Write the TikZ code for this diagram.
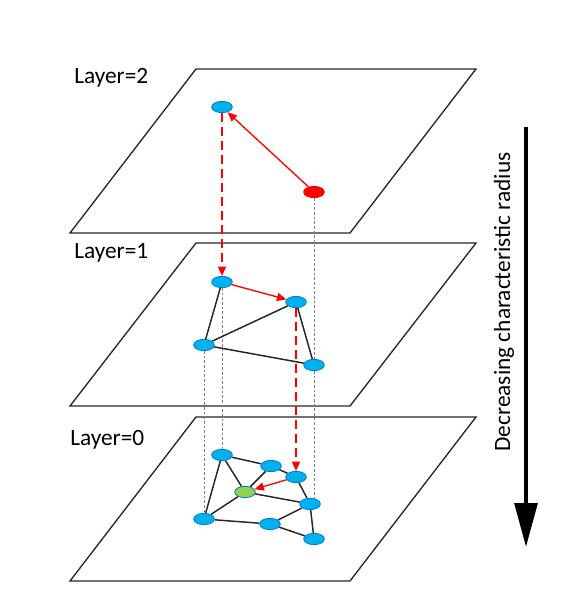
\documentclass[tikz,border=0pt]{standalone}
\usepackage{fontspec}
\setmainfont{Carlito}
\usetikzlibrary{arrows.meta,shapes.geometric,backgrounds}
\definecolor{nodeblue}{RGB}{0,176,240}
\definecolor{nodeedge}{RGB}{0,125,200}
\definecolor{nodegreen}{RGB}{146,208,80}
\definecolor{redc}{RGB}{255,0,0}
\begin{document}
\begin{tikzpicture}[x=0.75pt,y=-0.75pt,
  plane/.style={draw=black!85,line width=1pt,line join=miter},
  vtx/.style={ellipse,draw=nodeedge,fill=nodeblue,line width=0.6pt,minimum width=15.5pt,minimum height=8.5pt,inner sep=0pt},
  gvtx/.style={vtx,fill=nodegreen},
  rvtx/.style={vtx,fill=redc,draw=redc},
  edge/.style={draw=black!85,line width=1.1pt},
  redarrow/.style={draw=redc,line width=1pt,-{Triangle[length=7pt,width=6pt]}},
  reddash/.style={redarrow,line width=1.2pt,dash pattern=on 7pt off 3.5pt},
  vdot/.style={draw=gray,line width=0.6pt,dash pattern=on 2pt off 1.5pt},
  lbl/.style={font=\fontsize{17.5}{21}\selectfont,inner sep=0pt,anchor=base west}]
\useasboundingbox (0,0) rectangle (568,608);
% layer 2 nodes
\node[vtx] (t1) at (222,107) {};
\node[rvtx] (t2) at (314,192) {};
% layer 1 nodes
\node[vtx] (m1) at (222,282) {};
\node[vtx] (m2) at (296,302) {};
\node[vtx] (m3) at (204,345) {};
\node[vtx] (m4) at (314,365) {};
% layer 0 nodes
\node[vtx] (a) at (222,455) {};
\node[vtx] (b) at (271,466) {};
\node[vtx] (c) at (296,477) {};
\node[vtx] (d) at (310,504) {};
\node[vtx] (e) at (204,519) {};
\node[vtx] (f) at (270,524) {};
\node[vtx] (h) at (314,539) {};
\node[gvtx] (g) at (245,492) {};
\coordinate (dend) at (314,504);
\begin{scope}[on background layer]
% planes
\draw[plane] (196,69) -- (476,69) -- (350,233) -- (70,233) -- cycle;
\draw[plane] (196,243) -- (476,243) -- (350,406) -- (70,406) -- cycle;
\draw[plane] (196,417) -- (476,417) -- (350,581) -- (70,581) -- cycle;
% vertical dotted links
\draw[vdot] (t2) -- (m4);
\draw[vdot] (m1) -- (a);
\draw[vdot] (m3) -- (e);
\draw[vdot] (m4) -- (dend);
% layer 1 edges
\draw[edge] (m1) -- (m3);
\draw[edge] (m3) -- (m2);
\draw[edge] (m3) -- (m4);
\draw[edge] (m2) -- (m4);
% layer 0 edges
\draw[edge] (a) -- (b);
\draw[edge] (a) -- (g);
\draw[edge] (a) -- (e);
\draw[edge] (b) -- (g);
\draw[edge] (b) -- (c);
\draw[edge] (c) -- (d);
\draw[edge] (g) -- (d);
\draw[edge] (g) -- (e);
\draw[edge] (e) -- (f);
\draw[edge] (f) -- (d);
\draw[edge] (d) -- (h);
\draw[edge] (f) -- (h);
\end{scope}
% labels
\node[lbl] (l2) at (74,83) {Layer=2};
\node[lbl] (l1) at (74,258) {Layer=1};
\node[lbl] (l0) at (70,445) {Layer=0};
% red search path
\draw[redarrow] (t2) -- (t1);
\draw[reddash] (t1) -- (m1);
\draw[redarrow] (m1) -- (m2);
\draw[reddash] (m2) -- (c);
\draw[redarrow] (c) -- (g);
% big arrow
\coordinate (btop) at (526,127);
\coordinate (bbot) at (526,547);
\draw[line width=3pt,-{Triangle[length=33pt,width=17pt]}] (btop) -- (bbot);
\node[font=\fontsize{17.5}{21}\selectfont,inner sep=0pt,rotate=90,anchor=base] (cap) at (510,302) {Decreasing characteristic radius};
\end{tikzpicture}
\end{document}
